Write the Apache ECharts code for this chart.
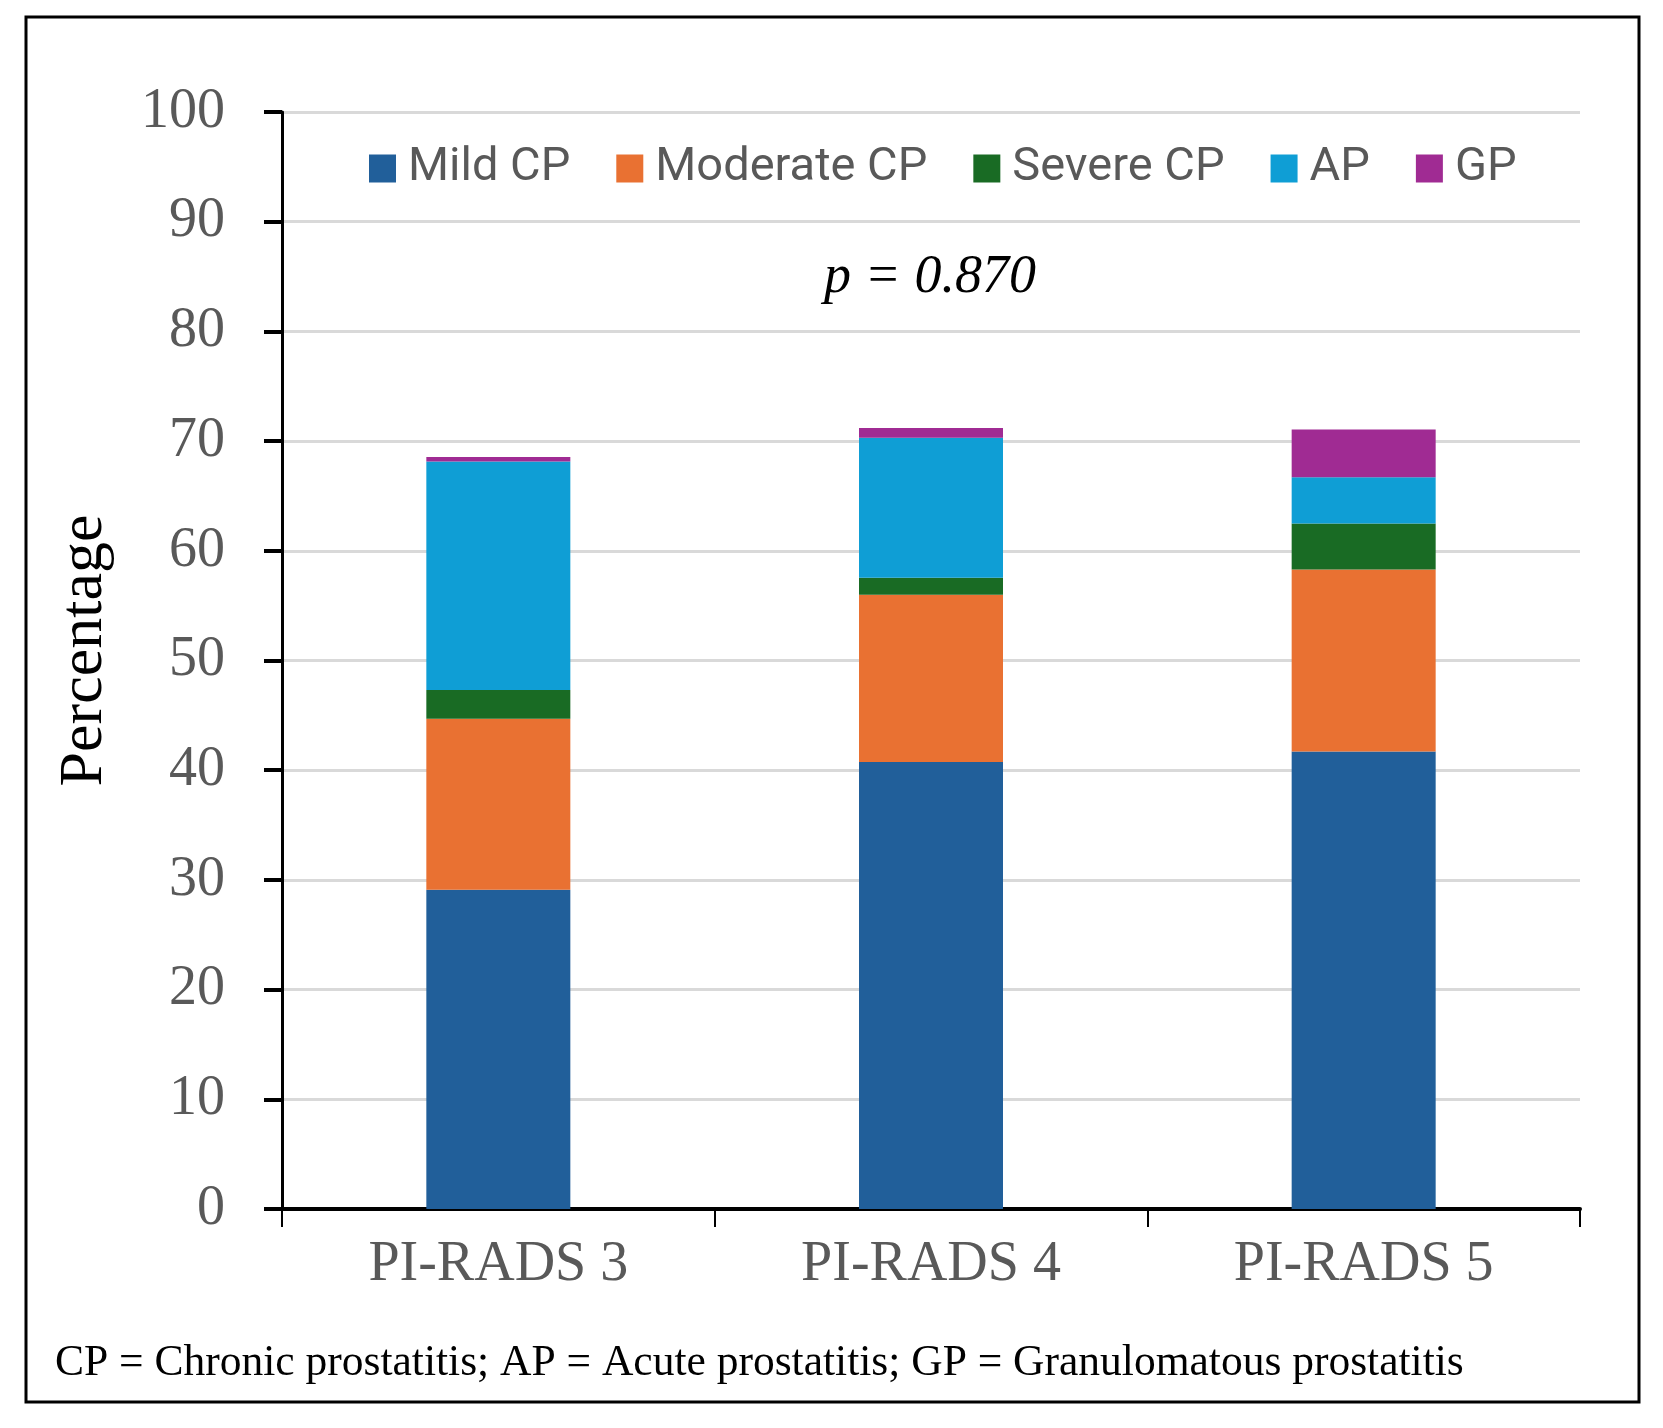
<!DOCTYPE html>
<html>
<head>
<meta charset="utf-8">
<title>PI-RADS prostatitis</title>
<script src="https://cdn.jsdelivr.net/npm/echarts@6/dist/echarts.min.js"></script>
<style>
  html, body { margin: 0; padding: 0; background: #fff; }
  #chart-container { width: 1663px; height: 1428px; }
</style>
</head>
<body>
<div id="chart-container"></div>
<script>
    'use strict';

    // categories and stacked percentages
    var categories = ['PI-RADS 3', 'PI-RADS 4', 'PI-RADS 5'];
    var mildCP     = [29.1, 40.75, 41.7];
    var moderateCP = [15.6, 15.25, 16.6];
    var severeCP   = [2.6, 1.55, 4.2];
    var acuteP     = [20.85, 12.75, 4.2];
    var granP      = [0.4, 0.9, 4.35];
    var yTicks     = { min: 0, max: 100, interval: 10 };

    var serif = '"Liberation Serif", "DejaVu Serif", serif';
    var grey = '#595959';

    var seriesDefs = [
        { name: 'Mild CP', data: mildCP, color: '#215F9A' },
        { name: 'Moderate CP', data: moderateCP, color: '#E97132' },
        { name: 'Severe CP', data: severeCP, color: '#196B24' },
        { name: 'AP', data: acuteP, color: '#0F9ED5' },
        { name: 'GP', data: granP, color: '#A02B93' }
    ];

    var chart = echarts.init(document.getElementById('chart-container'));

    var options = {
        animation: false,
        backgroundColor: '#fff',
        grid: { left: 282, right: 83, top: 112, bottom: 219 },
        legend: {
            left: 364,
            top: 140,
            itemWidth: 27,
            itemHeight: 28,
            itemGap: 46,
            icon: 'rect',
            textStyle: { fontFamily: 'Roboto, "Noto Sans", sans-serif', fontSize: 47, color: grey, padding: [0, 0, 0, 7] },
            data: seriesDefs.map(function(s) { return s.name; })
        },
        xAxis: {
            type: 'category',
            data: categories,
            axisLine: { lineStyle: { color: '#000', width: 4 } },
            axisTick: { show: true, length: 18, lineStyle: { color: '#000', width: 2 } },
            axisLabel: { fontFamily: serif, fontSize: 56, color: grey, margin: 28 }
        },
        yAxis: {
            type: 'value',
            min: yTicks.min,
            max: yTicks.max,
            interval: yTicks.interval,
            name: 'Percentage',
            nameLocation: 'middle',
            nameGap: 166,
            nameTextStyle: { fontFamily: serif, fontSize: 62, color: '#000', padding: [0, 0, 0, 20] },
            axisLine: { show: true, lineStyle: { color: '#000', width: 3 } },
            axisTick: { show: true, length: 18, lineStyle: { color: '#000', width: 4 } },
            axisLabel: { fontFamily: serif, fontSize: 56, color: grey, margin: 57 },
            splitLine: { lineStyle: { color: '#d9d9d9', width: 3 } }
        },
        series: seriesDefs.map(function(s) {
            return {
                name: s.name,
                type: 'bar',
                stack: 'total',
                barWidth: 144,
                itemStyle: { color: s.color },
                data: s.data
            };
        }),
        graphic: [
            {
                type: 'rect',
                shape: { x: 26, y: 17, width: 1613, height: 1385 },
                style: { fill: 'none', stroke: '#000', lineWidth: 3 },
                z: 100
            },
            {
                type: 'text',
                x: 930,
                y: 278,
                style: {
                    text: 'p = 0.870',
                    font: 'italic 54px ' + serif,
                    fill: '#000',
                    align: 'center',
                    verticalAlign: 'middle'
                }
            },
            {
                type: 'text',
                x: 55,
                y: 1364,
                style: {
                    text: 'CP = Chronic prostatitis; AP = Acute prostatitis; GP = Granulomatous prostatitis',
                    font: '43.5px ' + serif,
                    fill: '#000',
                    align: 'left',
                    verticalAlign: 'middle'
                }
            }
        ]
    };

    chart.setOption(options);
</script>
</body>
</html>
